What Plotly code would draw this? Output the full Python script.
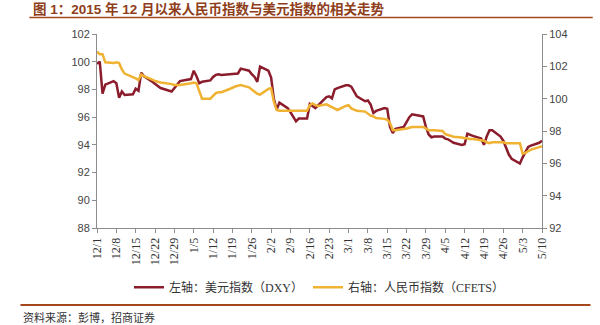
import plotly.graph_objects as go

# Trading days, Dec 2015 - May 2016
dates = [
    "2015-12-01", "2015-12-02", "2015-12-03", "2015-12-04", "2015-12-07", "2015-12-08",
    "2015-12-09", "2015-12-10", "2015-12-11", "2015-12-14", "2015-12-15", "2015-12-16",
    "2015-12-17", "2015-12-18", "2015-12-21", "2015-12-22", "2015-12-23", "2015-12-24",
    "2015-12-28", "2015-12-29", "2015-12-30", "2015-12-31", "2016-01-04", "2016-01-05",
    "2016-01-06", "2016-01-07", "2016-01-08", "2016-01-11", "2016-01-12", "2016-01-13",
    "2016-01-14", "2016-01-15", "2016-01-18", "2016-01-19", "2016-01-20", "2016-01-21",
    "2016-01-22", "2016-01-25", "2016-01-26", "2016-01-27", "2016-01-28", "2016-01-29",
    "2016-02-01", "2016-02-02", "2016-02-03", "2016-02-04", "2016-02-05", "2016-02-08",
    "2016-02-09", "2016-02-10", "2016-02-11", "2016-02-12", "2016-02-15", "2016-02-16",
    "2016-02-17", "2016-02-18", "2016-02-19", "2016-02-22", "2016-02-23", "2016-02-24",
    "2016-02-25", "2016-02-26", "2016-02-29", "2016-03-01", "2016-03-02", "2016-03-03",
    "2016-03-04", "2016-03-07", "2016-03-08", "2016-03-09", "2016-03-10", "2016-03-11",
    "2016-03-14", "2016-03-15", "2016-03-16", "2016-03-17", "2016-03-18", "2016-03-21",
    "2016-03-22", "2016-03-23", "2016-03-24", "2016-03-28", "2016-03-29", "2016-03-30",
    "2016-03-31", "2016-04-01", "2016-04-04", "2016-04-05", "2016-04-06", "2016-04-07",
    "2016-04-08", "2016-04-11", "2016-04-12", "2016-04-13", "2016-04-14", "2016-04-15",
    "2016-04-18", "2016-04-19", "2016-04-20", "2016-04-21", "2016-04-22", "2016-04-25",
    "2016-04-26", "2016-04-27", "2016-04-28", "2016-04-29", "2016-05-02", "2016-05-03",
    "2016-05-04", "2016-05-05", "2016-05-06", "2016-05-09", "2016-05-10",
]

# US dollar index (DXY), left axis
dxy = [
    99.85, 100.0, 97.7, 98.35, 98.6, 98.45,
    97.4, 97.85, 97.6, 97.65, 98.05, 97.9,
    99.2, 98.95, 98.55, 98.4, 98.2, 98.1,
    97.85, 98.1, 98.3, 98.6, 98.75, 99.35,
    98.95, 98.45, 98.55, 98.65, 98.9, 99.05,
    99.1, 99.05, 99.1, 99.1, 99.1, 99.15,
    99.5, 99.35, 99.1, 98.9, 98.55, 99.65,
    99.35, 98.85, 97.3, 96.55, 97.05, 96.65,
    96.35, 96.0, 95.7, 95.9, 95.9, 96.95,
    96.8, 96.65, 96.85, 97.45, 97.5, 97.35,
    98.0, 98.1, 98.3, 98.3, 98.2, 97.8,
    97.5, 97.15, 97.2, 96.9, 96.3, 96.45,
    96.65, 96.6, 95.3, 94.85, 95.15, 95.3,
    95.7, 96.0, 96.2, 96.05, 95.3, 94.75,
    94.55, 94.6, 94.6, 94.45, 94.4, 94.3,
    94.15, 94.0, 94.05, 94.8, 94.75, 94.65,
    94.45, 94.0, 94.6, 95.05, 95.05, 94.6,
    94.3, 93.85, 93.3, 93.0, 92.65, 93.1,
    93.5, 93.85, 93.95, 94.15, 94.3,
]

# CFETS RMB index, right axis
cfets = [
    102.9, 102.75, 102.75, 102.25, 102.2, 102.25,
    102.2, 101.8, 101.55, 101.35, 101.25, 101.15,
    101.5, 101.4, 101.15, 101.1, 101.05, 101.0,
    100.9, 100.85, 100.85, 100.85, 100.95, 101.0,
    100.95, 100.4, 100.0, 100.0, 100.2, 100.35,
    100.4, 100.4, 100.6, 100.7, 100.75, 100.8,
    100.85, 100.7, 100.55, 100.4, 100.3, 100.25,
    100.6, 100.65, 99.8, 99.3, 99.25, 99.25,
    99.25, 99.25, 99.25, 99.25, 99.25, 99.6,
    99.7, 99.6, 99.55, 99.65, 99.55, 99.45,
    99.35, 99.3, 99.55, 99.6, 99.4, 99.3,
    99.25, 99.2, 99.05, 98.95, 98.9, 98.8,
    98.75, 98.7, 98.5, 98.05, 98.05, 98.1,
    98.15, 98.2, 98.25, 98.25, 98.15, 98.05,
    98.05, 98.05, 98.0, 97.8, 97.75, 97.7,
    97.65, 97.6, 97.55, 97.55, 97.5, 97.5,
    97.45, 97.4, 97.3, 97.25, 97.3, 97.3,
    97.3, 97.25, 97.25, 97.25, 97.25, 96.6,
    96.65, 96.75, 96.85, 97.0, 97.07,
]

# Weekly tick positions and their labels
tick_dates = [
    "2015-12-01", "2015-12-08", "2015-12-15", "2015-12-22", "2015-12-29", "2016-01-05",
    "2016-01-12", "2016-01-19", "2016-01-26", "2016-02-02", "2016-02-09", "2016-02-16",
    "2016-02-23", "2016-03-01", "2016-03-08", "2016-03-15", "2016-03-22", "2016-03-29",
    "2016-04-05", "2016-04-12", "2016-04-19", "2016-04-26", "2016-05-03", "2016-05-10",
]
tick_labels = [
    "12/1", "12/8", "12/15", "12/22", "12/29", "1/5", "1/12", "1/19", "1/26", "2/2",
    "2/9", "2/16", "2/23", "3/1", "3/8", "3/15", "3/22", "3/29", "4/5", "4/12",
    "4/19", "4/26", "5/3", "5/10",
]

series_names = ["左轴：美元指数（DXY）", "右轴：人民币指数（CFETS）"]
title_text = "图 1：2015 年 12 月以来人民币指数与美元指数的相关走势"
source_text = "资料来源：彭博，招商证券"

DXY_COLOR = "#8B1C2C"
CFETS_COLOR = "#F0B232"
BROWN = "#A4471C"
AXIS_COLOR = "#8C8C8C"
CJK = "Noto Sans CJK SC"

fig = go.Figure()
fig.add_trace(go.Scatter(
    x=dates, y=dxy, name=series_names[0], mode="lines",
    line=dict(color=DXY_COLOR, width=2.5), yaxis="y",
))
fig.add_trace(go.Scatter(
    x=dates, y=cfets, name=series_names[1], mode="lines",
    line=dict(color=CFETS_COLOR, width=2.5), yaxis="y2",
))

axis_common = dict(
    showgrid=False, zeroline=False, showline=True, linecolor=AXIS_COLOR,
    linewidth=1, ticks="outside", tickcolor=AXIS_COLOR, ticklen=4,
)

fig.update_layout(
    width=600, height=325,
    margin=dict(l=97, r=58, t=34, b=97),
    paper_bgcolor="white", plot_bgcolor="white",
    showlegend=True,
    legend=dict(
        orientation="h", x=0.5, xanchor="center", y=-0.305, yanchor="middle",
        font=dict(family=f"Liberation Serif, {CJK}", size=12, color="#333333"),
        itemwidth=30, tracegroupgap=0, bgcolor="rgba(0,0,0,0)",
    ),
    xaxis=dict(
        type="date", range=["2015-12-01", "2016-05-10"],
        tickmode="array", tickvals=tick_dates, ticktext=tick_labels,
        tickangle=-90,
        tickfont=dict(family="Liberation Serif", size=12, color="#333333"),
        **axis_common,
    ),
    yaxis=dict(
        range=[88, 102], dtick=2, tick0=88,
        tickfont=dict(family="Liberation Sans", size=11, color="#444444"),
        **axis_common,
    ),
    yaxis2=dict(
        range=[92, 104], dtick=2, tick0=92, overlaying="y", side="right",
        tickfont=dict(family="Liberation Sans", size=11, color="#444444"),
        **axis_common,
    ),
)

# Header title with rule underneath, source note with rule above
fig.add_annotation(
    xref="paper", yref="paper", x=-0.1475, y=1.128, xanchor="left", yanchor="middle",
    text=f"<b>{title_text}</b>", showarrow=False,
    font=dict(family=f"Liberation Sans, {CJK}", size=13.5, color="#8E3E1A"),
)
fig.add_shape(
    type="line", xref="paper", yref="paper", x0=-0.152, x1=1.114, y0=1.085, y1=1.085,
    line=dict(color=BROWN, width=1.5),
)
fig.add_shape(
    type="line", xref="paper", yref="paper", x0=-0.172, x1=1.109, y0=-0.397, y1=-0.397,
    line=dict(color=BROWN, width=2.2),
)
fig.add_annotation(
    xref="paper", yref="paper", x=-0.170, y=-0.459, xanchor="left", yanchor="middle",
    text=source_text, showarrow=False,
    font=dict(family=CJK, size=11, color="#333333"),
)

fig.write_html("out.html")
